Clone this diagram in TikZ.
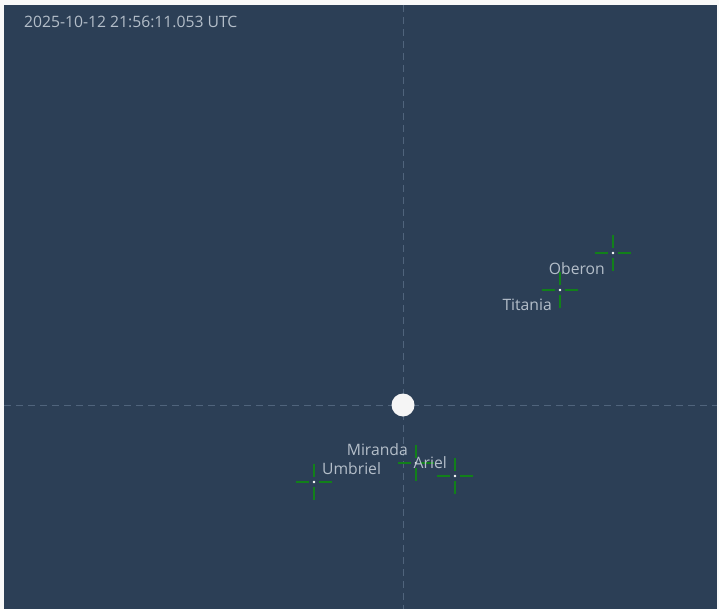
\documentclass[tikz,border=0pt]{standalone}
\usepackage{fontspec}
\setmainfont{Open Sans}
\usetikzlibrary{backgrounds}

\definecolor{skyblue}{HTML}{2C3F56}
\definecolor{gridgray}{HTML}{50647C}
\definecolor{labelgray}{HTML}{B4BEC9}
\definecolor{markgreen}{HTML}{12801A}

\tikzset{
  moonlabel/.style={text=labelgray, font=\fontsize{15.7}{17}\selectfont, inner sep=0pt},
  crossarm/.style={draw=markgreen, line width=2pt},
  axisline/.style={draw=gridgray, line width=1pt, dash pattern=on 7pt off 5pt}
}

\begin{document}
\begin{tikzpicture}[x=1pt,y=-1pt]
  \useasboundingbox (0,0) rectangle (719,609);
  \fill[white!95!gray] (0,0) rectangle (719,609);
  \fill[skyblue] (4,5) rectangle (717,609);

  % axes through the planet
  \draw[axisline] (4,405) -- (717,405);
  \draw[axisline] (403,5) -- (403,609);

  \node[moonlabel, anchor=west] (stamp) at (24,22) {2025-10-12 21:56:11.053 UTC};

  % moons: x / y / name / label anchor / label dx / label dy
  \foreach \x/\y/\name/\side/\dx/\dy in {613/253/Oberon/east/-8/16,
                                         560/290/Titania/east/-8/15,
                                         416/463/Miranda/east/-8/-13,
                                         455/476/Ariel/east/-8/-13,
                                         314/482/Umbriel/west/8/-13}{
    \draw[crossarm] (\x-18,\y) -- (\x-5,\y) (\x+5,\y) -- (\x+18,\y);
    \draw[crossarm] (\x,\y-18) -- (\x,\y-5) (\x,\y+5) -- (\x,\y+18);
    \fill[white] (\x,\y) circle (1.4);
    \node[moonlabel, anchor=\side] (\name) at (\x+\dx,\y+\dy) {\name};
  }

  \fill[white!92!gray] (403,405) circle (11.5);
\end{tikzpicture}
\end{document}
